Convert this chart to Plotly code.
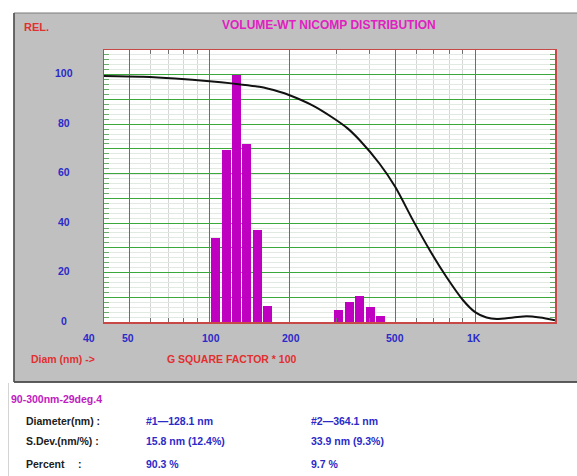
import numpy as np
import plotly.graph_objects as go

# ---------------- data ----------------
bar_diam = [105.4, 115.5, 126.1, 137.7, 151.0, 164.7, 306.9, 336.0, 367.6, 402.4, 440.2]
bar_vals = [33.8, 69.5, 100.0, 71.9, 37.1, 6.4, 5.0, 8.0, 10.4, 5.9, 2.6]

curve_diam = [40, 56, 74, 100, 121, 154, 183, 199, 244, 291, 330, 367, 436, 500, 583,
              675, 780, 901, 1000, 1104, 1205, 1392, 1564, 1756, 2000]
curve_vals = [99.5, 99.2, 98.5, 97.4, 96.5, 95.1, 93.1, 91.8, 87.6, 82.6, 78.4, 73.6, 64.1,
              54.7, 41.2, 29.0, 18.2, 8.8, 4.0, 1.8, 1.2, 1.8, 2.3, 1.8, 0.7]

x_major = [50, 100, 200, 500, 1000]
x_minor = [60, 70, 80, 90, 300, 400, 600, 700, 800, 900]
x_tick_vals = [40, 50, 100, 200, 500, 1000]
x_tick_text = ["40", "50", "100", "200", "500", "1K"]
y_tick_vals = [0, 20, 40, 60, 80, 100]

title_text = "VOLUME-WT NICOMP DISTRIBUTION"
sample_name = "90-300nm-29deg.4"
row_labels = ["Diameter(nm) :", "S.Dev.(nm/%) :", "Percent"]
col1_text = ["#1\u2014128.1 nm", "15.8 nm (12.4%)", "90.3 %"]
col2_text = ["#2\u2014364.1 nm", "33.9 nm (9.3%)", "9.7 %"]

# ---------------- layout geometry ----------------
W, H = 577, 476
L, R, T, B = 104, 22, 50, 154
PW, PH = W - L - R, H - T - B


def px(p):
    return (p - L) / PW


def py(p):
    return (H - B - p) / PH


BLUE = "#2b2bc8"
RED = "#e03030"
MAG = "#e020c0"
FONT = "Liberation Sans, Arial, sans-serif"

fig = go.Figure()
fig.add_trace(go.Bar(x=np.log10(bar_diam), y=bar_vals, width=0.034,
                     marker=dict(color="#c000c0", line=dict(width=0)),
                     showlegend=False, hoverinfo="skip"))
fig.add_trace(go.Scatter(x=np.log10(curve_diam), y=curve_vals, mode="lines",
                         line=dict(color="#111111", width=2, shape="spline", smoothing=0.8),
                         showlegend=False, hoverinfo="skip"))

shapes = [
    # gray panel
    dict(type="rect", xref="paper", yref="paper", x0=px(14), x1=px(582), y0=py(382), y1=py(13),
         fillcolor="#c0c0c0", line=dict(color="#7a7a7a", width=1), layer="below"),
    dict(type="line", xref="paper", yref="paper", x0=px(14), x1=px(582), y0=py(382), y1=py(382),
         line=dict(color="#404040", width=1.5), layer="below"),
    dict(type="line", xref="paper", yref="paper", x0=px(14), x1=px(14), y0=py(382), y1=py(13),
         line=dict(color="#505050", width=1.5), layer="below"),
    # white plot area
    dict(type="rect", xref="paper", yref="paper", x0=0, x1=1, y0=0, y1=1,
         fillcolor="white", line=dict(width=0), layer="below"),
    # faint line below panel
    dict(type="line", xref="paper", yref="paper", x0=px(8.5), x1=px(8.5), y0=py(383), y1=py(476),
         line=dict(color="#d4d4d4", width=1), layer="below"),
    # gray major line at 60
    dict(type="line", xref="paper", yref="y", x0=0, x1=1, y0=60, y1=60,
         line=dict(color="#a8a8a8", width=1.2), layer="between"),
]

ann = []
ann.append(dict(text="<b>%s</b>" % title_text, x=px(329), y=py(24.5), xref="paper", yref="paper",
                showarrow=False, xanchor="center", yanchor="middle",
                font=dict(family=FONT, size=12, color=MAG)))
ann.append(dict(text="<b>REL.</b>", x=px(22), y=py(27), xref="paper", yref="paper",
                showarrow=False, xanchor="left", yanchor="middle",
                font=dict(family=FONT, size=11, color=RED)))
for v in y_tick_vals:
    ann.append(dict(text="<b>%d</b>" % v, x=px(63.8), y=v, xref="paper", yref="y",
                    showarrow=False, xanchor="center", yanchor="middle", yshift=1.5,
                    font=dict(family=FONT, size=10.5, color=BLUE)))
x_label_shift = [-15, -2, 1, 1, 0, -1]
for v, t, s in zip(x_tick_vals, x_tick_text, x_label_shift):
    ann.append(dict(text="<b>%s</b>" % t, x=np.log10(v), y=py(338), xref="x", yref="paper",
                    showarrow=False, xanchor="center", yanchor="middle", xshift=s,
                    font=dict(family=FONT, size=10.5, color=BLUE)))
ann.append(dict(text="<b>Diam (nm) -></b>", x=px(29), y=py(358.5), xref="paper", yref="paper",
                showarrow=False, xanchor="left", yanchor="middle",
                font=dict(family=FONT, size=10.5, color=RED)))
ann.append(dict(text="<b>G SQUARE FACTOR * 100</b>", x=px(165), y=py(358.5), xref="paper", yref="paper",
                showarrow=False, xanchor="left", yanchor="middle",
                font=dict(family=FONT, size=10.5, color=RED)))
ann.append(dict(text="<b>%s</b>" % sample_name, x=px(9), y=py(399), xref="paper", yref="paper",
                showarrow=False, xanchor="left", yanchor="middle",
                font=dict(family=FONT, size=10.5, color="#c020c0")))
row_y = [421, 440.5, 464]
for lab, c1, c2, yy in zip(row_labels, col1_text, col2_text, row_y):
    ann.append(dict(text="<b>%s</b>" % lab, x=px(23.5), y=py(yy), xref="paper", yref="paper",
                    showarrow=False, xanchor="left", yanchor="middle",
                    font=dict(family=FONT, size=10.5, color="#202020")))
    ann.append(dict(text="<b>%s</b>" % c1, x=px(143.5), y=py(yy), xref="paper", yref="paper",
                    showarrow=False, xanchor="left", yanchor="middle",
                    font=dict(family=FONT, size=10.5, color=BLUE)))
    ann.append(dict(text="<b>%s</b>" % c2, x=px(308.5), y=py(yy), xref="paper", yref="paper",
                    showarrow=False, xanchor="left", yanchor="middle",
                    font=dict(family=FONT, size=10.5, color=BLUE)))
ann.append(dict(text="<b>:</b>", x=px(80), y=py(464), xref="paper", yref="paper",
                showarrow=False, xanchor="center", yanchor="middle",
                font=dict(family=FONT, size=10.5, color="#202020")))

fig.update_layout(
    width=W, height=H,
    margin=dict(l=L, r=R, t=T, b=B, pad=0),
    paper_bgcolor="white", plot_bgcolor="white",
    bargap=0,
    showlegend=False,
    shapes=shapes,
    annotations=ann,
    xaxis=dict(range=[np.log10(40), np.log10(2000)], tickmode="array",
               tickvals=list(np.log10(x_major)), showticklabels=False, ticks="",
               showgrid=True, gridcolor="#2e9a2e", gridwidth=1,
               showline=True, linecolor="#c84848", linewidth=1.5, mirror="allticks",
               zeroline=False, fixedrange=True,
               minor=dict(tickmode="array", tickvals=list(np.log10(x_minor)),
                          showgrid=True, gridcolor="#d6d6d6", gridwidth=1,
                          ticks="inside", ticklen=4, tickcolor="#707070", tickwidth=1)),
    yaxis=dict(range=[0, 110], tickmode="linear", tick0=0, dtick=10,
               showticklabels=False, ticks="",
               showgrid=True, gridcolor="#3aa83a", gridwidth=1,
               showline=True, linecolor="#c84848", linewidth=1.5, mirror="allticks",
               zeroline=False, fixedrange=True,
               minor=dict(dtick=2, showgrid=True, gridcolor="#e2e8e2", gridwidth=1,
                          ticks="inside", ticklen=5, tickcolor="#6aaa6a", tickwidth=1)),
)

fig.write_html("out.html", config={"staticPlot": True},
               post_script="document.body.style.margin='0';document.body.style.overflow='hidden';")
